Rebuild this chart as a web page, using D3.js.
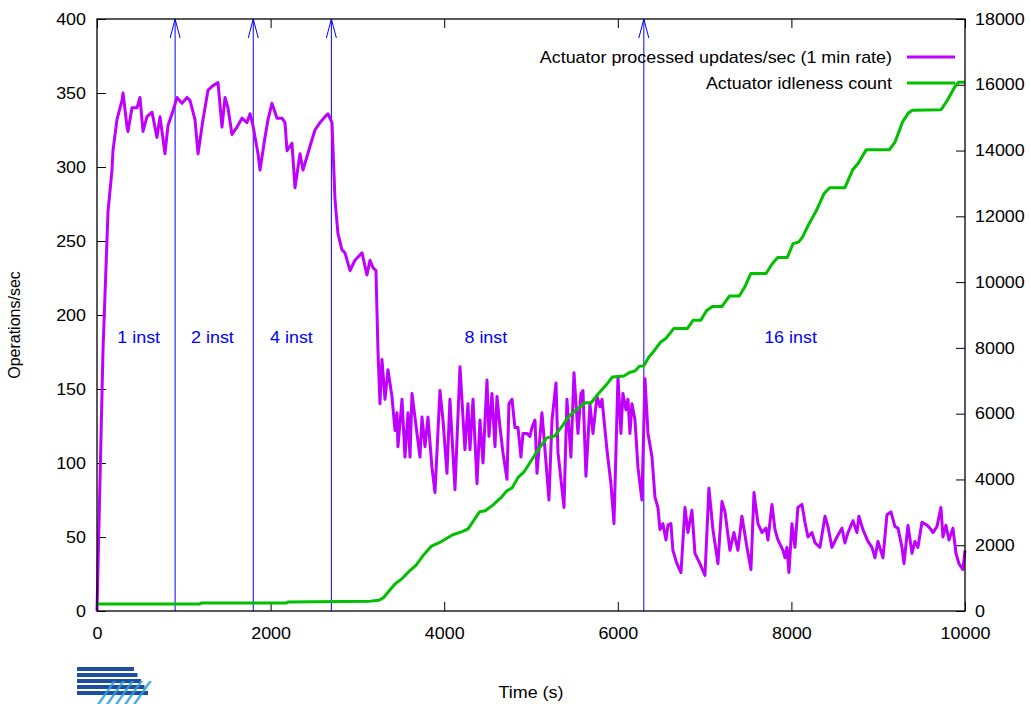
<!DOCTYPE html>
<html>
<head>
<meta charset="utf-8">
<script src="https://cdn.jsdelivr.net/npm/d3@7"></script>
<style>
  body { margin: 0; background: #fff; }
  text { font-family: "Liberation Sans", Arial, sans-serif; }
</style>
</head>
<body>
<svg id="chart"></svg>
<script>
// ---- data ----
const xTicks = [0, 2000, 4000, 6000, 8000, 10000];
const yTicks = [0, 50, 100, 150, 200, 250, 300, 350, 400];
const y2Ticks = [0, 2000, 4000, 6000, 8000, 10000, 12000, 14000, 16000, 18000];

// instance changes (s) and their labels
const markers = [900, 1800, 2700, 6300];
const instLabels = ["1 inst", "2 inst", "4 inst", "8 inst", "16 inst"];
const instLabelTime = [480, 1330, 2240, 4480, 7990];
const instLabelValue = 185;

// Actuator processed updates/sec (1 min rate) : [time s, ops/sec]
const rate = [
  [0,0],[69,176],[127,270],[173,298],[184,311],[230,332],[288,345],[300,350],[346,327],[357,324],
  [403,340],[461,340],[495,347],[530,324],[576,334],[634,337],[691,320],[726,334],[783,309],[818,328],
  [876,338],[922,347],[979,343],[1037,347],[1071,345],[1129,332],[1164,309],[1221,332],[1279,352],[1336,355],
  [1394,357],[1440,327],[1475,347],[1509,340],[1555,322],[1613,327],[1670,333],[1728,330],[1763,336],[1797,328],
  [1855,309],[1878,298],[1935,320],[1970,332],[2016,343],[2074,333],[2131,333],[2166,330],[2189,311],[2246,316],
  [2281,286],[2339,309],[2373,298],[2419,307],[2454,314],[2511,325],[2569,330],[2627,334],[2661,336],[2707,330],
  [2742,278],[2776,255],[2822,244],[2857,242],[2915,230],[2972,237],[3053,242],[3110,227],[3145,237],[3180,232],
  [3214,230],[3237,176],[3260,140],[3283,170],[3318,143],[3352,163],[3398,145],[3433,122],[3456,134],[3467,111],
  [3514,143],[3548,104],[3583,134],[3606,104],[3629,147],[3663,131],[3721,104],[3744,131],[3779,111],[3813,131],
  [3859,97],[3894,80],[3951,149],[3986,129],[4032,93],[4066,143],[4124,82],[4182,165],[4239,109],[4274,140],
  [4297,109],[4332,143],[4378,86],[4412,129],[4447,100],[4493,156],[4516,118],[4550,147],[4585,111],[4608,145],
  [4643,124],[4677,107],[4723,89],[4746,140],[4781,143],[4815,124],[4850,124],[4884,104],[4908,120],[4954,120],
  [4988,118],[5011,124],[5046,129],[5069,93],[5126,134],[5161,109],[5207,75],[5242,129],[5288,154],[5311,107],
  [5380,70],[5414,143],[5460,104],[5495,161],[5541,120],[5576,147],[5599,149],[5633,91],[5679,140],[5714,120],
  [5760,145],[5795,138],[5818,143],[5875,109],[5921,86],[5956,59],[6002,158],[6036,120],[6059,147],[6094,136],
  [6117,143],[6140,120],[6163,140],[6198,129],[6232,97],[6278,75],[6313,157],[6348,120],[6394,104],[6428,77],
  [6462,70],[6486,55],[6520,59],[6555,48],[6578,58],[6612,59],[6635,41],[6681,32],[6728,26],[6774,70],
  [6808,53],[6854,68],[6889,39],[6946,32],[7004,24],[7050,83],[7096,55],[7154,32],[7200,74],[7235,67],
  [7292,41],[7338,53],[7384,41],[7430,64],[7488,43],[7534,28],[7569,80],[7615,59],[7661,53],[7707,56],
  [7730,48],[7776,72],[7811,55],[7845,48],[7903,41],[7926,36],[7949,43],[7972,26],[8006,59],[8041,43],
  [8075,70],[8122,72],[8156,60],[8191,50],[8237,53],[8272,46],[8329,43],[8387,64],[8421,57],[8467,43],
  [8525,50],[8582,56],[8617,46],[8652,53],[8709,61],[8755,53],[8778,64],[8824,55],[8882,47],[8928,43],
  [8963,36],[8997,47],[9055,36],[9101,65],[9147,67],[9193,57],[9228,56],[9274,43],[9297,32],[9343,58],
  [9389,39],[9423,47],[9458,43],[9504,60],[9562,58],[9596,56],[9631,53],[9677,57],[9723,70],[9746,50],
  [9780,58],[9815,48],[9861,56],[9896,39],[9930,32],[9976,28],[10000,41]
];

// Actuator idleness count : [time s, count]
const idle = [
  [0,210],[1180,210],[1200,240],[2180,240],[2200,270],[3150,300],[3250,330],[3300,405],[3367,614],[3433,823],
  [3522,1001],[3588,1189],[3677,1398],[3765,1711],[3854,1973],[3943,2077],[4031,2213],[4098,2318],[4208,2412],[4275,2495],
  [4341,2757],[4408,3018],[4474,3049],[4563,3227],[4652,3436],[4718,3645],[4784,3749],[4851,4063],[4917,4219],[5006,4585],
  [5095,4951],[5183,5264],[5272,5317],[5361,5630],[5427,5892],[5538,6153],[5626,6331],[5693,6331],[5781,6623],[5870,6884],
  [5937,7114],[6069,7145],[6136,7250],[6202,7302],[6247,7438],[6300,7459],[6358,7720],[6424,7929],[6491,8169],[6557,8295],
  [6645,8588],[6801,8588],[6867,8838],[6956,8838],[7022,9131],[7089,9256],[7199,9256],[7288,9580],[7399,9580],[7465,9863],
  [7532,10260],[7709,10260],[7775,10542],[7842,10751],[7953,10751],[8019,11169],[8085,11221],[8130,11378],[8197,11744],[8285,12161],
  [8374,12684],[8440,12872],[8617,12872],[8706,13415],[8772,13624],[8861,14021],[9127,14021],[9193,14252],[9282,14879],[9348,15140],
  [9393,15223],[9725,15244],[9792,15506],[9880,15924],[9925,16080],[10000,16080]
];

const seriesNames = ["Actuator processed updates/sec (1 min rate)", "Actuator idleness count"];
const seriesColors = ["#c000ff", "#00c000"];

// ---- layout ----
const width = 1031, height = 704;
const margin = { top: 19, right: 66, bottom: 93, left: 97 };
const fontSize = "16px";
const stretchX = 1.12;   // text in the picture is a bit wider than normal

const svg = d3.select("#chart")
    .attr("width", width)
    .attr("height", height);

const x = d3.scaleLinear().domain([0, 10000]).range([margin.left, width - margin.right]);
const y = d3.scaleLinear().domain([0, 400]).range([height - margin.bottom, margin.top]);
const y2 = d3.scaleLinear().domain([0, 18000]).range([height - margin.bottom, margin.top]);

const x0 = x.range()[0], x1 = x.range()[1];
const yb = y.range()[0], yt = y.range()[1];

// widen a text around its own anchor x
function stretch(sel) {
    sel.attr("transform", function() {
        const ax = +this.getAttribute("x") || 0;
        return `translate(${ax},0) scale(${stretchX},1) translate(${-ax},0)`;
    });
}

// axes, gnuplot style: ticks point inward
const tickLen = 9;
const fmt = d3.format("d");
svg.append("g")
    .attr("transform", `translate(0,${yb})`)
    .call(d3.axisBottom(x).tickValues(xTicks).tickFormat(fmt).tickSizeInner(-tickLen).tickSizeOuter(0).tickPadding(17))
    .call(g => g.select(".domain").remove());
svg.append("g")
    .attr("transform", `translate(0,${yt})`)
    .call(d3.axisTop(x).tickValues(xTicks).tickSizeInner(-tickLen).tickSizeOuter(0).tickFormat(""))
    .call(g => g.select(".domain").remove());
svg.append("g")
    .attr("transform", `translate(${x0},0)`)
    .call(d3.axisLeft(y).tickValues(yTicks).tickFormat(fmt).tickSizeInner(-tickLen).tickSizeOuter(0).tickPadding(11))
    .call(g => g.select(".domain").remove());
svg.append("g")
    .attr("transform", `translate(${x1},0)`)
    .call(d3.axisRight(y2).tickValues(y2Ticks).tickFormat(fmt).tickSizeInner(-tickLen).tickSizeOuter(0).tickPadding(10))
    .call(g => g.select(".domain").remove());

svg.selectAll(".tick text")
    .attr("font-size", fontSize)
    .attr("fill", "#000")
    .style("font-family", "'Liberation Sans', Arial, sans-serif")
    .call(stretch);
svg.selectAll(".tick line").attr("stroke", "#000");

// instance change arrows
const arrows = svg.append("g").attr("stroke", "#0000ff").attr("fill", "none").attr("stroke-width", 1);
markers.forEach(t => {
    const px = x(t);
    arrows.append("line").attr("x1", px).attr("x2", px).attr("y1", yb).attr("y2", yt);
    arrows.append("path").attr("d", `M${px - 5},${yt + 19} L${px},${yt} L${px + 5},${yt + 19}`);
});

svg.selectAll(".inst")
    .data(instLabels)
    .join("text")
    .attr("class", "inst")
    .attr("x", (d, i) => x(instLabelTime[i]))
    .attr("y", y(instLabelValue) + 6)
    .attr("text-anchor", "middle")
    .attr("font-size", fontSize)
    .attr("fill", "#0000ff")
    .text(d => d)
    .call(stretch);

// series
const rateLine = d3.line().x(d => x(d[0])).y(d => y(d[1]));
const idleLine = d3.line().x(d => x(d[0])).y(d => y2(d[1]));

svg.append("path")
    .datum(rate)
    .attr("d", rateLine)
    .attr("fill", "none")
    .attr("stroke", seriesColors[0])
    .attr("stroke-width", 3)
    .attr("stroke-linejoin", "round");

svg.append("path")
    .datum(idle)
    .attr("d", idleLine)
    .attr("fill", "none")
    .attr("stroke", seriesColors[1])
    .attr("stroke-width", 3)
    .attr("stroke-linejoin", "round");

// border
svg.append("rect")
    .attr("x", x0).attr("y", yt)
    .attr("width", x1 - x0).attr("height", yb - yt)
    .attr("fill", "none").attr("stroke", "#000").attr("stroke-width", 1.3);

// legend
const legend = svg.append("g");
seriesNames.forEach((name, i) => {
    const ly = 57 + i * 26;
    legend.append("text")
        .attr("x", 892).attr("y", ly + 6)
        .attr("text-anchor", "end")
        .attr("font-size", fontSize)
        .text(name)
        .call(stretch);
    legend.append("line")
        .attr("x1", 907).attr("x2", 955)
        .attr("y1", ly).attr("y2", ly)
        .attr("stroke", seriesColors[i]).attr("stroke-width", 3);
});

// axis titles
svg.append("text")
    .attr("transform", `translate(20,${(yt + yb) / 2 + 10}) rotate(-90)`)
    .attr("text-anchor", "middle")
    .attr("font-size", fontSize)
    .text("Operations/sec");
svg.append("text")
    .attr("x", 531).attr("y", 698)
    .attr("text-anchor", "middle")
    .attr("font-size", fontSize)
    .text("Time (s)")
    .call(stretch);

// small logo in the corner
const logo = svg.append("g").attr("transform", "translate(77,667)");
[0, 6, 12, 18, 24].forEach((dy, i) => {
    logo.append("rect")
        .attr("x", 0).attr("y", dy)
        .attr("width", 57 + i * 3.5).attr("height", 4)
        .attr("fill", "#1d4f9e");
});
[0, 1, 2, 3, 4].forEach(i => {
    logo.append("path")
        .attr("d", `M${20 + i * 9},37 L${36 + i * 9},14 L${39 + i * 9},14 L${23 + i * 9},37 Z`)
        .attr("fill", "#2b9de0")
        .attr("opacity", 0.85);
});
</script>
</body>
</html>
